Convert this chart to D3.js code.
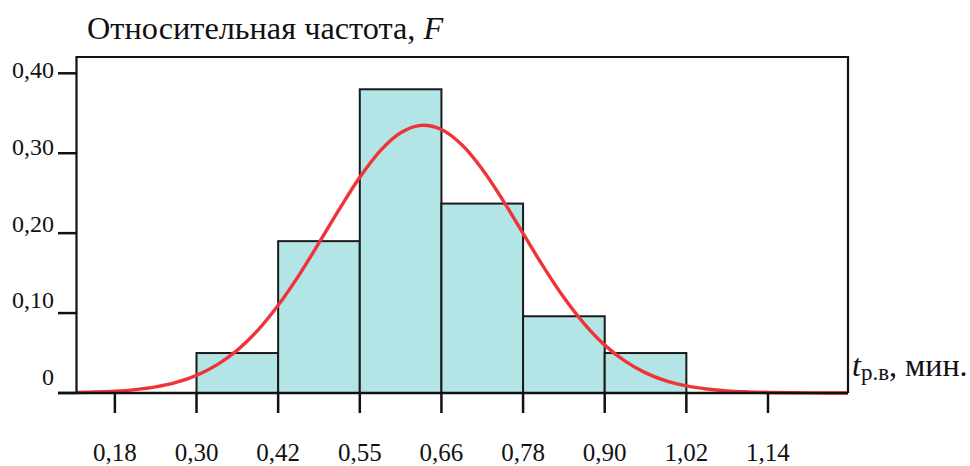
<!DOCTYPE html>
<html>
<head>
<meta charset="utf-8">
<script src="https://cdn.jsdelivr.net/npm/d3@7"></script>
<style>
body { margin: 0; background: #fff; }
text { font-family: "Liberation Serif", "DejaVu Serif", serif; fill: #111; }
</style>
</head>
<body>
<script>
var width = 970;
var height = 466;

// границы интервалов (подписи оси X)
var tickLabels = ["0,18", "0,30", "0,42", "0,55", "0,66", "0,78", "0,90", "1,02", "1,14"];
// столбцы: индекс начала интервала, индекс конца, относительная частота
var binStart = [1, 2, 3, 4, 5, 6];
var binEnd   = [2, 3, 4, 5, 6, 7];
var binFreq  = [0.05, 0.19, 0.38, 0.237, 0.096, 0.05];
// подписи оси Y
var yTicks = [0, 0.10, 0.20, 0.30, 0.40];
var yTickLabels = ["0", "0,10", "0,20", "0,30", "0,40"];
// кривая, позиция в индексах интервалов
var curveX = [-0.47, 0, 0.25, 0.5, 0.75, 1, 1.25, 1.5, 1.75, 2, 2.25, 2.5, 2.75, 3, 3.25, 3.5, 3.75,
              4, 4.25, 4.5, 4.75, 5, 5.25, 5.5, 5.75, 6, 6.25, 6.5, 6.75, 7, 7.25, 7.5, 7.75, 8, 8.5, 8.98];
var curveY = [0.0006, 0.0022, 0.0042, 0.0076, 0.0132, 0.0221, 0.0352, 0.0537, 0.0784, 0.1097, 0.1466,
              0.1878, 0.2301, 0.2699, 0.303, 0.3256, 0.3349, 0.3296, 0.3105, 0.280, 0.2417, 0.1996,
              0.1578, 0.1194, 0.0865, 0.0599, 0.0398, 0.0252, 0.0153, 0.0089, 0.005, 0.0026, 0.0014,
              0.0007, 0.0001, 0];

var svg = d3.select("body")
  .append("svg")
  .attr("width", width)
  .attr("height", height);

var x = d3.scaleLinear().domain([-0.47, 8.98]).range([76.5, 848]);
var y = d3.scaleLinear().domain([0, 0.4]).range([393, 73.3]);
// подписи оси Y в оригинале стоят чуть неравномерно
var yLab = d3.scaleLinear().domain([0, 0.4]).range([385, 78]);

// столбцы
svg.selectAll("rect.bar")
  .data(binFreq)
  .enter()
  .append("rect")
  .attr("class", "bar")
  .attr("x", function(d, i) { return x(binStart[i]); })
  .attr("y", function(d) { return y(d); })
  .attr("width", function(d, i) { return x(binEnd[i]) - x(binStart[i]); })
  .attr("height", function(d) { return y(0) - y(d); })
  .style("fill", "#b3e5e6")
  .style("stroke", "#1a1a1a")
  .style("stroke-width", 2);

// кривая
var line = d3.line()
  .x(function(d, i) { return x(curveX[i]); })
  .y(function(d) { return y(d); })
  .curve(d3.curveCatmullRom);

svg.append("path")
  .datum(curveY)
  .attr("d", line)
  .style("fill", "none")
  .style("stroke", "#ef3439")
  .style("stroke-width", 3.4);

// рамка
svg.append("path")
  .attr("d", "M" + x(-0.47) + "," + y(0) + "V57H" + x(8.98) + "V" + y(0))
  .style("fill", "none")
  .style("stroke", "#111")
  .style("stroke-width", 2.2);

// ось X
svg.append("line")
  .attr("x1", 58).attr("x2", x(8.98))
  .attr("y1", y(0)).attr("y2", y(0))
  .style("stroke", "#111").style("stroke-width", 2.5);

svg.selectAll("line.xtick")
  .data(tickLabels)
  .enter()
  .append("line")
  .attr("class", "xtick")
  .attr("x1", function(d, i) { return x(i); })
  .attr("x2", function(d, i) { return x(i); })
  .attr("y1", y(0))
  .attr("y2", 413)
  .style("stroke", "#111").style("stroke-width", 2.5);

svg.selectAll("text.xlab")
  .data(tickLabels)
  .enter()
  .append("text")
  .attr("class", "xlab")
  .attr("x", function(d, i) { return x(i); })
  .attr("y", 461)
  .attr("text-anchor", "middle")
  .style("font-size", "25px")
  .text(function(d) { return d; });

// ось Y
svg.selectAll("line.ytick")
  .data(yTicks)
  .enter()
  .append("line")
  .attr("class", "ytick")
  .attr("x1", 58).attr("x2", x(-0.47))
  .attr("y1", function(d) { return y(d); })
  .attr("y2", function(d) { return y(d); })
  .style("stroke", "#111").style("stroke-width", 2.5);

svg.selectAll("text.ylab")
  .data(yTicks)
  .enter()
  .append("text")
  .attr("class", "ylab")
  .attr("x", 54)
  .attr("y", function(d) { return yLab(d); })
  .attr("text-anchor", "end")
  .style("font-size", "24px")
  .text(function(d, i) { return yTickLabels[i]; });

// заголовок оси Y
var title = svg.append("text")
  .attr("x", 87)
  .attr("y", 39)
  .style("font-size", "32.3px");
title.append("tspan").text("Относительная частота, ");
title.append("tspan").style("font-style", "italic").text("F");

// подпись оси X
var xt = svg.append("text")
  .attr("x", 852)
  .attr("y", 376)
  .style("font-size", "32px");
xt.append("tspan").style("font-style", "italic").text("t");
xt.append("tspan").attr("dy", 4).style("font-size", "23px").text("р.в");
xt.append("tspan").attr("dy", -4).text(", мин.");
</script>
</body>
</html>
